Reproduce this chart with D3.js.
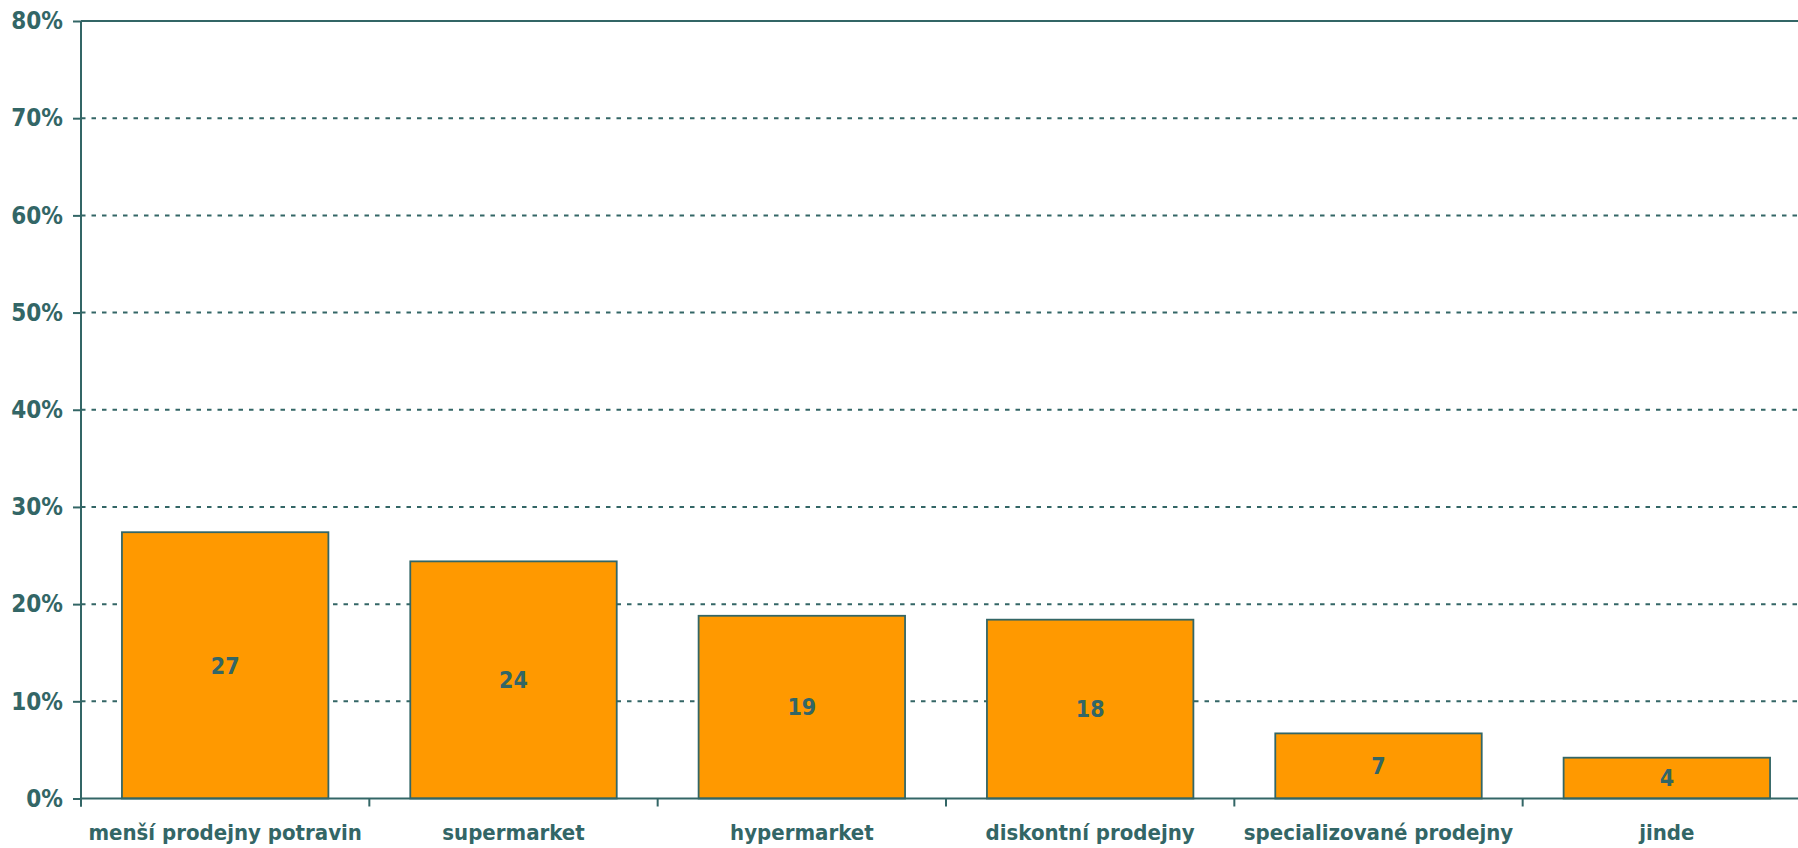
<!DOCTYPE html>
<html>
<head>
<meta charset="utf-8">
<script src="https://cdn.jsdelivr.net/npm/d3@7"></script>
<style>
  html, body { margin: 0; padding: 0; background: #ffffff; overflow: hidden; }
  svg text { font-family: "DejaVu Sans Condensed", "DejaVu Sans", sans-serif; font-weight: bold; fill: #336666; }
</style>
</head>
<body>
<svg id="chart" width="1798" height="848"></svg>
<script>
const categories = ["menší prodejny potravin", "supermarket", "hypermarket", "diskontní prodejny", "specializované prodejny", "jinde"];
const values = [27.4, 24.4, 18.8, 18.4, 6.7, 4.2];
const valueLabels = ["27", "24", "19", "18", "7", "4"];
const yTicks = [0, 10, 20, 30, 40, 50, 60, 70, 80];

const teal = "#336666";
const orange = "#FF9900";

const svg = d3.select("#chart");
const plotLeft = 81, plotTop = 21, plotBottom = 798.5, plotRight = 1811;

const x = d3.scaleBand().domain(categories).range([plotLeft, plotRight]).paddingInner(0.284).paddingOuter(0.142);
const y = d3.scaleLinear().domain([0, 80]).range([plotBottom, plotTop]);

// gridlines
svg.append("g").selectAll("line").data(yTicks.filter(d => d > 0 && d < 80)).join("line")
  .attr("x1", plotLeft).attr("x2", 1798)
  .attr("y1", d => y(d)).attr("y2", d => y(d))
  .attr("stroke", teal).attr("stroke-width", 2).attr("stroke-dasharray", "4.5,6");
// top line
svg.append("line").attr("x1", plotLeft).attr("x2", 1798).attr("y1", y(80)).attr("y2", y(80))
  .attr("stroke", teal).attr("stroke-width", 2);

// bars
svg.append("g").selectAll("rect").data(categories).join("rect")
  .attr("x", d => x(d))
  .attr("y", (d, i) => y(values[i]))
  .attr("width", x.bandwidth())
  .attr("height", (d, i) => y(0) - y(values[i]))
  .attr("fill", orange).attr("stroke", teal).attr("stroke-width", 1.8);

// value labels
svg.append("g").selectAll("text").data(categories).join("text")
  .attr("x", d => x(d) + x.bandwidth() / 2)
  .attr("y", (d, i) => (y(values[i]) + y(0)) / 2)
  .attr("dy", "0.36em")
  .attr("text-anchor", "middle")
  .style("font-size", "23px")
  .text((d, i) => valueLabels[i]);

// y axis
const yAxis = d3.axisLeft(y).tickValues(yTicks).tickFormat(d => d + "%").tickSize(8).tickPadding(10);
const gy = svg.append("g").attr("transform", `translate(${plotLeft},0)`).call(yAxis);
gy.select(".domain").remove();
gy.selectAll(".tick line").attr("stroke", teal).attr("stroke-width", 2);
gy.selectAll(".tick text").style("font-size", "24px").attr("fill", teal);
svg.append("line").attr("x1", plotLeft).attr("x2", plotLeft).attr("y1", plotTop).attr("y2", plotBottom + 8)
  .attr("stroke", teal).attr("stroke-width", 2);

// x axis
const xAxis = d3.axisBottom(x).tickSize(0).tickPadding(26);
const gx = svg.append("g").attr("transform", `translate(0,${plotBottom})`).call(xAxis);
gx.select(".domain").remove();
gx.selectAll(".tick text").style("font-size", "22px").attr("fill", teal);
svg.append("line").attr("x1", plotLeft).attr("x2", 1798).attr("y1", plotBottom).attr("y2", plotBottom)
  .attr("stroke", teal).attr("stroke-width", 2);
// category boundary ticks
const bounds = d3.range(categories.length + 1).map(i => x.range()[0] + i * x.step());
svg.append("g").selectAll("line").data(bounds).join("line")
  .attr("x1", d => d).attr("x2", d => d)
  .attr("y1", plotBottom).attr("y2", plotBottom + 8)
  .attr("stroke", teal).attr("stroke-width", 2);
</script>
</body>
</html>
